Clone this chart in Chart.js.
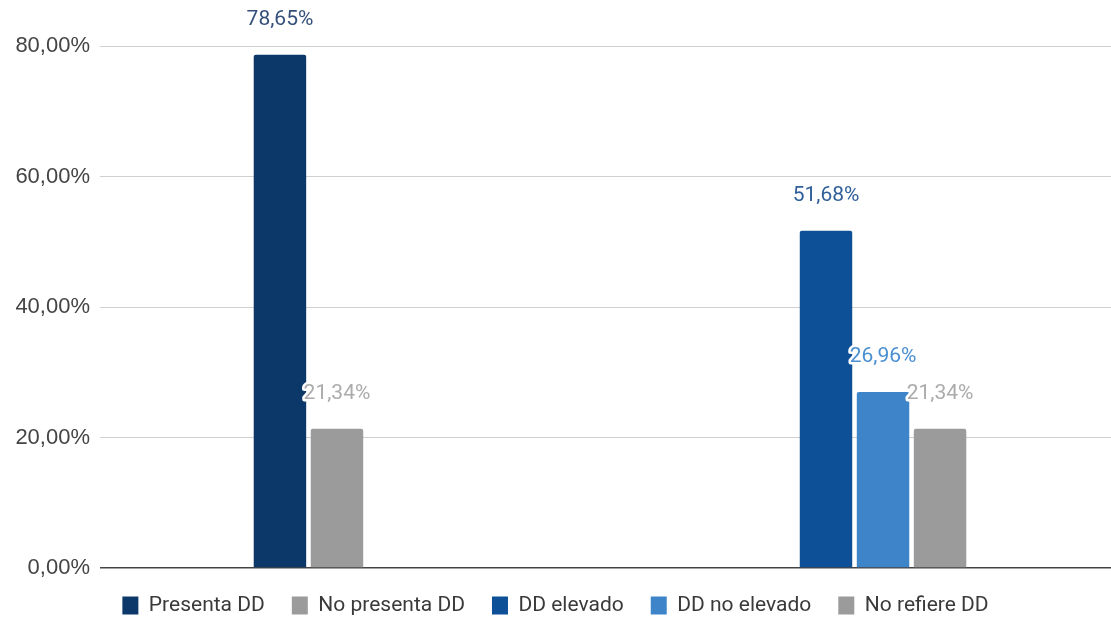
<!DOCTYPE html>
<html>
<head>
<meta charset="utf-8">
<script src="https://cdn.jsdelivr.net/npm/chart.js@4/dist/chart.umd.min.js"></script>
<style>
	html, body { margin:0; padding:0; background:#fff; }
	#ddChart { display:block; }
</style>
</head>
<body>
<canvas id="ddChart" width="1111" height="630"></canvas>
<script>
//datos del grafico
var categories = ['Presencia de DD', 'Nivel de DD'];
var seriesNames = ['Presenta DD', 'No presenta DD', 'DD elevado', 'DD no elevado', 'No refiere DD'];
var presentaDD = [78.65, null];
var noPresentaDD = [21.34, null];
var ddElevado = [null, 51.68];
var ddNoElevado = [null, 26.96];
var noRefiereDD = [null, 21.34];
var yTicks = [0, 20, 40, 60, 80];

var barColors = ['#0b3868', '#9b9b9b', '#0d5097', '#3d85c8', '#9b9b9b'];
var labelColors = ['#34507a', '#ababab', '#2f5f99', '#4a8fd2', '#ababab'];

//formato 78,65%
function pct(v){
	return v.toFixed(2).replace('.', ',') + '%';
}

//etiquetas de valor encima de cada barra
var valueLabels = {
	id:'valueLabels',
	afterDatasetsDraw:function(chart){
		var ctx = chart.ctx;
		ctx.save();
		ctx.font = '21px Roboto';
		ctx.textAlign = 'center';
		ctx.textBaseline = 'middle';
		ctx.lineJoin = 'round';
		chart.data.datasets.forEach(function(ds, i){
			chart.getDatasetMeta(i).data.forEach(function(bar, j){
				var v = ds.data[j];
				if(v == null) return;
				ctx.lineWidth = 5;
				ctx.strokeStyle = '#ffffff';
				ctx.strokeText(pct(v), bar.x, bar.y - 35);
				ctx.fillStyle = labelColors[i];
				ctx.fillText(pct(v), bar.x, bar.y - 35);
			});
		});
		ctx.restore();
	}
};

var seriesData = [presentaDD, noPresentaDD, ddElevado, ddNoElevado, noRefiereDD];
var datasets = seriesNames.map(function(name, i){
	return {
		label:name,
		data:seriesData[i],
		backgroundColor:barColors[i],
		borderRadius:2,
		borderSkipped:'bottom',
		categoryPercentage:0.66,
		barPercentage:0.92
	};
});

function gridColor(c){ return c.tick && c.tick.value === 0 ? '#444444' : '#d0d0d0'; }
function gridWidth(c){ return c.tick && c.tick.value === 0 ? 1.5 : 1; }

var ddChart = new Chart(document.getElementById('ddChart'), {
	type:'bar',
	data:{
		labels:categories,
		datasets:datasets
	},
	options:{
		responsive:false,
		devicePixelRatio:1,
		animation:false,
		layout:{ padding:{ top:46, bottom:4, left:0, right:0 } },
		scales:{
			x:{ display:false },
			y:{
				position:'left',
				min:yTicks[0],
				max:yTicks[yTicks.length - 1],
				afterBuildTicks:function(s){ s.ticks = yTicks.map(function(v){ return {value:v}; }); },
				afterFit:function(s){ s.width = 178; },
				border:{ display:false },
				grid:{ color:gridColor, lineWidth:gridWidth, tickLength:78 },
				ticks:{
					padding:10,
					color:'#444444',
					font:{ family:'"Liberation Sans", Arial', size:22 },
					callback:function(v){ return pct(v); }
				}
			},
			y2:{
				position:'right',
				min:yTicks[0],
				max:yTicks[yTicks.length - 1],
				afterBuildTicks:function(s){ s.ticks = yTicks.map(function(v){ return {value:v}; }); },
				border:{ display:false },
				grid:{ color:gridColor, lineWidth:gridWidth, tickLength:69, drawOnChartArea:false },
				ticks:{ display:false }
			}
		},
		plugins:{
			tooltip:{ enabled:false },
			legend:{
				position:'bottom',
				labels:{
					boxWidth:16,
					boxHeight:18,
					padding:27,
					color:'#3a3a3a',
					font:{ family:'Roboto', size:21 }
				}
			}
		}
	},
	plugins:[valueLabels]
});
</script>
</body>
</html>
